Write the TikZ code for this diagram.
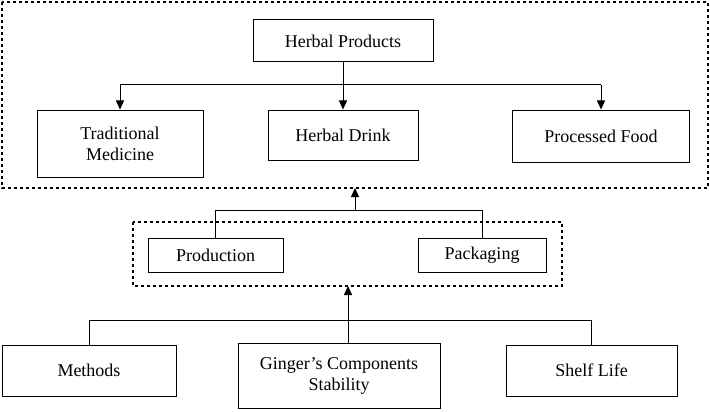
\documentclass[tikz,border=0pt]{standalone}
\usepackage{fontspec}
\setmainfont{Liberation Serif}
\usetikzlibrary{arrows.meta}
\begin{document}
\begin{tikzpicture}[x=1pt, y=-1pt, every node/.style={font=\fontsize{18}{21}\selectfont},
    box/.style={draw, line width=1pt, minimum height=#1, align=center, inner sep=2pt},
    box/.default=42pt,
    arr/.style={-{Triangle[length=9pt,width=8pt]}, line width=1pt}]
\useasboundingbox (0,0) rectangle (710,412);
% outer groups
\draw[dashed, line width=1.2pt] (2,2) rectangle (708,188);
\draw[dashed, line width=2pt] (133,222) rectangle (562,286);
% top level
\node[box, minimum width=180pt] (prod) at (343,41) {Herbal Products};
\node[box=67pt, minimum width=166pt] (trad) at (120,143.5) {Traditional\\Medicine};
\node[box=50pt, minimum width=150pt] (drink) at (343,135) {Herbal Drink};
\node[box=52pt, minimum width=177pt] (food) at (601,136) {Processed Food};
\draw[line width=1pt] (prod.south) -- (343,85) coordinate (hub);
\draw[line width=1pt] (trad.north |- hub) -- (food.north |- hub);
\draw[arr] (trad.north |- hub) -- (trad.north);
\draw[arr] (hub) -- (drink.north);
\draw[arr] (food.north |- hub) -- (food.north);
% middle level
\node[box=34pt, minimum width=135pt] (production) at (215.5,255) {Production};
\node[box=34pt, minimum width=128pt] (packaging) at (482,255) {Packaging};
\draw[line width=1pt] (production.north) -- (215.5,210) -- (482,210) -- (packaging.north);
\coordinate (mid) at (355,210);
\draw[arr] (mid) -- (355,188);
% bottom level
\node[box=51pt, minimum width=174pt] (methods) at (89,370.5) {Methods};
\node[box=65pt, minimum width=202pt] (ginger) at (339,375.5) {Ginger's Components\\Stability};
\node[box=51pt, minimum width=171pt] (shelf) at (591.5,370.5) {Shelf Life};
\draw[line width=1pt] (methods.north) -- (89,320) -- (591.5,320) -- (shelf.north);
\coordinate (gtop) at (348,343);
\draw[arr] (gtop) -- (348,286);
\end{tikzpicture}
\end{document}
